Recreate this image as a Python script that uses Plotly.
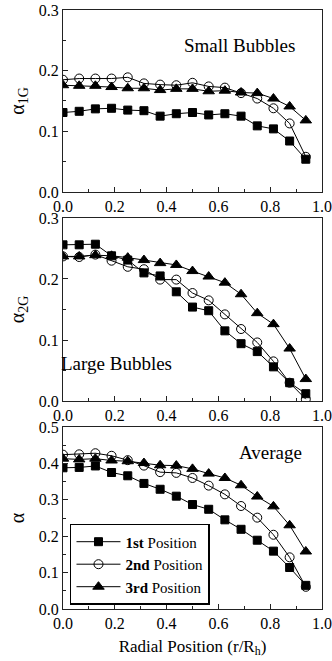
import plotly.graph_objects as go
from plotly.subplots import make_subplots

r_pos = [0.0, 0.0625, 0.125, 0.1875, 0.25, 0.3125, 0.375, 0.4375, 0.5,
         0.5625, 0.625, 0.6875, 0.75, 0.8125, 0.875, 0.9375]

series_names = ["<b>1st</b> Position", "<b>2nd</b> Position", "<b>3rd</b> Position"]

# Small bubbles (alpha_1G)
small_1st = [0.131, 0.133, 0.137, 0.138, 0.135, 0.134, 0.125, 0.129, 0.131,
             0.127, 0.129, 0.125, 0.109, 0.104, 0.084, 0.054]
small_2nd = [0.185, 0.187, 0.187, 0.187, 0.189, 0.179, 0.177, 0.176, 0.180,
             0.174, 0.172, 0.163, 0.154, 0.138, 0.113, 0.058]
small_3rd = [0.176, 0.175, 0.175, 0.173, 0.171, 0.171, 0.168, 0.170, 0.170,
             0.166, 0.167, 0.164, 0.163, 0.154, 0.141, 0.118]

# Large bubbles (alpha_2G)
large_1st = [0.256, 0.256, 0.257, 0.238, 0.231, 0.210, 0.205, 0.179, 0.154,
             0.148, 0.115, 0.094, 0.081, 0.056, 0.030, 0.012]
large_2nd = [0.237, 0.236, 0.240, 0.230, 0.220, 0.216, 0.199, 0.199, 0.177,
             0.165, 0.142, 0.118, 0.096, 0.065, 0.030, 0.003]
large_3rd = [0.237, 0.237, 0.239, 0.238, 0.235, 0.231, 0.226, 0.223, 0.213,
             0.204, 0.194, 0.175, 0.144, 0.126, 0.086, 0.036]

# Average (alpha)
avg_1st = [0.388, 0.389, 0.393, 0.375, 0.366, 0.345, 0.329, 0.310, 0.287,
           0.274, 0.245, 0.219, 0.189, 0.159, 0.114, 0.065]
avg_2nd = [0.424, 0.425, 0.428, 0.421, 0.409, 0.394, 0.376, 0.374, 0.360,
           0.339, 0.315, 0.283, 0.251, 0.204, 0.142, 0.061]
avg_3rd = [0.413, 0.411, 0.413, 0.408, 0.406, 0.401, 0.395, 0.394, 0.385,
           0.372, 0.360, 0.340, 0.309, 0.282, 0.230, 0.158]

panels = [
    ([small_1st, small_2nd, small_3rd], "α<sub>1G</sub>", 0.3, "Small Bubbles", 0.683, 0.242),
    ([large_1st, large_2nd, large_3rd], "α<sub>2G</sub>", 0.3, "Large Bubbles", 0.205, 0.062),
    ([avg_1st, avg_2nd, avg_3rd], "α", 0.5, "Average", 0.80, 0.429),
]

marker_styles = [
    dict(symbol="square", size=8, color="black", line=dict(color="black", width=1)),
    dict(symbol="circle-open", size=9, color="black", line=dict(color="black", width=1)),
    dict(symbol="triangle-up", size=10, color="black", line=dict(color="black", width=1)),
]

FONT = "Liberation Serif"

fig = make_subplots(rows=3, cols=1)

domains = [[0.6962, 1.0], [0.3472, 0.6528], [0.0, 0.3038]]

for i, (data, ytitle, ymax, label, lx, ly) in enumerate(panels):
    row = i + 1
    for j, vals in enumerate(data):
        fig.add_trace(go.Scatter(
            x=r_pos, y=vals, mode="lines+markers",
            name=series_names[j],
            line=dict(color="black", width=1),
            marker=marker_styles[j],
            showlegend=(row == 3),
            legendgroup=str(j),
        ), row=row, col=1)
    axis_common = dict(
        showline=True, linecolor="#222", linewidth=1, mirror=True,
        ticks="inside", ticklen=5, tickcolor="#222", tickwidth=1,
        showgrid=False, zeroline=False, automargin=False,
        tickfont=dict(family=FONT, size=16, color="black"),
    )
    fig.update_xaxes(range=[0, 1], dtick=0.2, tick0=0, tickformat=".1f",
                     minor=dict(dtick=0.1, ticks="inside", ticklen=3, tickcolor="#222"),
                     row=row, col=1, **axis_common)
    fig.update_yaxes(range=[0, ymax], dtick=0.1, tick0=0, tickformat=".1f",
                     domain=domains[i],
                     minor=dict(dtick=0.05, ticks="inside", ticklen=3, tickcolor="#222"),
                     title=dict(text=ytitle, font=dict(family=FONT, size=20, color="black"),
                                standoff=8),
                     row=row, col=1, **axis_common)
    fig.add_annotation(x=lx, y=ly, text=label, showarrow=False,
                       xref=f"x{'' if row == 1 else row}", yref=f"y{'' if row == 1 else row}",
                       font=dict(family=FONT, size=19, color="black"))

fig.update_xaxes(title=dict(text="Radial Position (r/R<sub>h</sub>)",
                            font=dict(family=FONT, size=17, color="black"), standoff=8),
                 row=3, col=1)

fig.update_layout(
    width=332, height=661,
    margin=dict(l=63, r=10, t=10, b=52),
    plot_bgcolor="white", paper_bgcolor="white",
    font=dict(family=FONT, color="black"),
    legend=dict(x=0.027, y=0.142, xanchor="left", yanchor="top",
                bordercolor="black", borderwidth=1.5, bgcolor="white",
                font=dict(family=FONT, size=15, color="black"),
                tracegroupgap=0, itemwidth=44),
)

fig.write_html("out.html")
